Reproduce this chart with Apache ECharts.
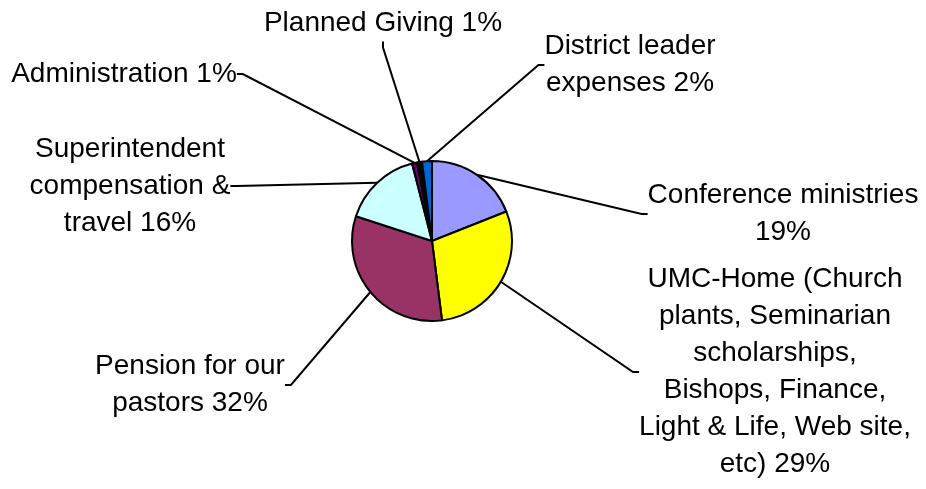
<!DOCTYPE html>
<html>
<head>
<meta charset="utf-8">
<title>Budget pie</title>
<script src="https://cdn.jsdelivr.net/npm/echarts@6/dist/echarts.min.js"></script>
<style>
  html, body { margin: 0; padding: 0; background: #fff; }
  #chart { width: 926px; height: 489px; }
</style>
</head>
<body>
<div id="chart"></div>
<script>
// 資料
const categories = [
  'Conference ministries',
  'UMC-Home (Church\nplants, Seminarian\nscholarships,\nBishops, Finance,\nLight & Life, Web site,\netc)',
  'Pension for our\npastors',
  'Superintendent\ncompensation &\ntravel',
  'Administration',
  'Planned Giving',
  'District leader\nexpenses'
]
const values = [19, 29, 32, 16, 1, 1, 2]
const colors = ['#9999FF', '#FFFF00', '#993366', '#CCFFFF', '#660066', '#000000', '#0066CC']
// 百分比前面換行或空白
const separators = ['\n', ' ', ' ', ' ', ' ', ' ', ' ']

// 標籤位置 (文字區塊中心)
const labelPos = [
  [783, 214],
  [775, 372],
  [190, 385],
  [130, 186],
  [124, 74],
  [383, 23],
  [630, 65]
]

const chart = echarts.init(document.getElementById('chart'))

const option = {
  backgroundColor: '#fff',
  animation: false,
  series: [
    {
      type: 'pie',
      center: [432, 241],
      radius: 80,
      startAngle: 90,
      avoidLabelOverlap: false,
      data: categories.map((name, i) => ({
        name: name,
        value: values[i],
        itemStyle: { color: colors[i] }
      })),
      itemStyle: { borderColor: '#000', borderWidth: 2 },
      label: {
        show: true,
        position: 'outside',
        formatter: p => p.name + separators[p.dataIndex] + p.value + '%',
        fontFamily: 'Liberation Sans, Arial, sans-serif',
        fontSize: 28,
        lineHeight: 37,
        color: '#000',
        align: 'center'
      },
      labelLine: {
        show: true,
        length: 10,
        length2: 6,
        lineStyle: { color: '#000', width: 2 }
      },
      labelLayout: params => {
        const p = labelPos[params.dataIndex]
        return { x: p[0], y: p[1], align: 'center', verticalAlign: 'middle' }
      },
      emphasis: { disabled: true }
    }
  ]
}

chart.setOption(option)
</script>
</body>
</html>
